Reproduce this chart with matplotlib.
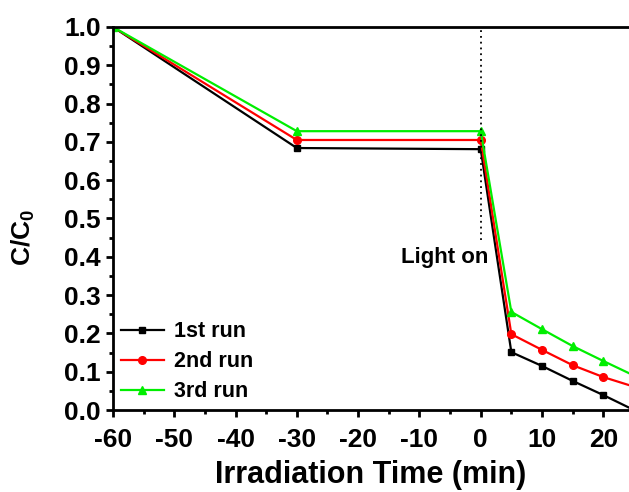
import numpy as np
import matplotlib.pyplot as plt
from matplotlib.ticker import MultipleLocator

plt.rcParams['font.family'] = ['Liberation Sans', 'DejaVu Sans']
plt.rcParams['font.weight'] = 'bold'
plt.rcParams['axes.unicode_minus'] = False
plt.rcParams['mathtext.fontset'] = 'custom'
plt.rcParams['mathtext.bf'] = 'Liberation Sans:bold'
plt.rcParams['mathtext.rm'] = 'Liberation Sans:bold'

# Data
time = [-60, -30, 0, 5, 10, 15, 20, 25]
run1 = [1.0, 0.684, 0.681, 0.151, 0.115, 0.076, 0.039, 0.0]
run2 = [1.0, 0.705, 0.705, 0.198, 0.157, 0.117, 0.086, 0.061]
run3 = [1.0, 0.728, 0.728, 0.256, 0.211, 0.167, 0.128, 0.090]
labels = ['1st run', '2nd run', '3rd run']

fig = plt.figure(figsize=(6.29, 4.92), dpi=100)
ax = fig.add_axes([113 / 629, 1 - 410 / 492, 1 - 113 / 629, (410 - 27) / 492])

ax.plot(time, run1, '-s', color='black', lw=1.6, ms=4.5, label=labels[0])
ax.plot(time, run2, '-o', color='red', lw=1.6, ms=5.5, label=labels[1])
ax.plot(time, run3, '-^', color='#00ee00', lw=1.6, ms=6, label=labels[2])

# light on marker
ax.plot([0, 0], [0.444, 1.0], color='black', lw=1.3, linestyle=(0, (1, 2.2)))
ax.text(1.2, 0.397, 'Light on', ha='right', va='center', fontsize=16, fontweight='bold')

ax.set_xlim(-60, 24.2)
ax.set_ylim(0, 1.0)
ax.xaxis.set_major_locator(MultipleLocator(10))
ax.xaxis.set_minor_locator(MultipleLocator(5))
ax.yaxis.set_major_locator(MultipleLocator(0.1))
ax.yaxis.set_minor_locator(MultipleLocator(0.05))
ax.yaxis.set_major_formatter(plt.FormatStrFormatter('%.1f'))

for s in ['left', 'bottom', 'top']:
    ax.spines[s].set_linewidth(2)
ax.spines['right'].set_visible(False)
ax.tick_params(which='major', direction='out', length=5, width=2, labelsize=19, pad=4)
ax.tick_params(axis='x', which='major', pad=8)
ax.tick_params(which='minor', direction='out', length=3, width=2)
ax.tick_params(top=False, which='both')
for lab in ax.get_xticklabels() + ax.get_yticklabels():
    lab.set_fontweight('bold')

ax.set_xlabel('Irradiation Time (min)', fontsize=22, fontweight='bold', labelpad=6)
ax.set_ylabel('C/C$_\\mathbf{0}$', fontsize=19, fontweight='bold')
ax.yaxis.set_label_coords(-0.148, 0.45)

leg = ax.legend(loc='lower left', frameon=False, fontsize=15.5, handlelength=2.0,
                borderaxespad=0.15, borderpad=0.2, labelspacing=0.42, handletextpad=0.5,
                bbox_to_anchor=(0.0, 0.0))
for t in leg.get_texts():
    t.set_fontweight('bold')

fig.savefig('out.png', dpi=100)
